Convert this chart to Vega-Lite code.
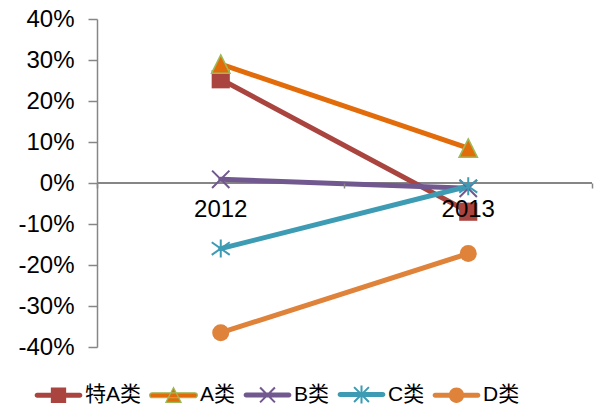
{
  "$schema": "https://vega.github.io/schema/vega-lite/v6.json",
  "width": 495,
  "height": 328,
  "autosize": {"type": "none"},
  "padding": {"left": 97, "top": 19, "right": 5, "bottom": 61},
  "background": "#ffffff",
  "config": {
    "view": {"stroke": null},
    "font": "Liberation Sans",
    "axis": {"labelFont": "Liberation Sans", "labelColor": "#000000", "grid": false, "title": null}
  },
  "data": {
    "values": [
      {"series": "特A类", "year": "2012", "value": 0.253},
      {"series": "特A类", "year": "2013", "value": -0.07},
      {"series": "A类", "year": "2012", "value": 0.29},
      {"series": "A类", "year": "2013", "value": 0.085},
      {"series": "B类", "year": "2012", "value": 0.009},
      {"series": "B类", "year": "2013", "value": -0.013},
      {"series": "C类", "year": "2012", "value": -0.16},
      {"series": "C类", "year": "2013", "value": -0.008},
      {"series": "D类", "year": "2012", "value": -0.365},
      {"series": "D类", "year": "2013", "value": -0.172}
    ]
  },
  "layer": [
    {
      "mark": {"type": "rule", "color": "#868686", "strokeWidth": 1.5},
      "encoding": {"y": {"datum": 0, "type": "quantitative"}}
    },
    {
      "mark": {"type": "line", "strokeWidth": 5, "strokeCap": "round"},
      "encoding": {
        "x": {
          "field": "year", "type": "nominal",
          "scale": {"type": "band", "paddingInner": 0, "paddingOuter": 0},
          "axis": {
            "orient": "bottom", "offset": -164, "zindex": 1,
            "bandPosition": 1, "tickExtra": true,
            "domain": false, "ticks": true, "tickSize": 5, "tickColor": "#868686", "tickWidth": 1.5,
            "labelAngle": 0, "labelFontSize": 24, "labelPadding": 9
          }
        },
        "y": {
          "field": "value", "type": "quantitative",
          "scale": {"domain": [-0.4, 0.4], "nice": false},
          "axis": {
            "values": [-0.4, -0.3, -0.2, -0.1, 0, 0.1, 0.2, 0.3, 0.4],
            "labelExpr": "round(datum.value * 100) + '%'",
            "labelFontSize": 24, "labelPadding": 14,
            "tickSize": 9, "tickColor": "#868686", "tickWidth": 1.5,
            "domainColor": "#868686", "domainWidth": 1.5
          }
        },
        "color": {"field": "series", "type": "nominal", "legend": null,
          "scale": {"domain": ["特A类", "A类", "B类", "C类", "D类"], "range": ["#A9443F", "#E36C0A", "#71588F", "#3D9BB4", "#DF823A"]}},
        "order": {"field": "year"}
      }
    },
    {
      "transform": [{"filter": {"field": "series", "oneOf": ["特A类", "A类", "D类"]}}],
      "mark": {"type": "point", "filled": true, "opacity": 1, "strokeWidth": 1.5},
      "encoding": {
        "x": {"field": "year", "type": "nominal"},
        "y": {"field": "value", "type": "quantitative"},
        "color": {"field": "series", "type": "nominal", "legend": null},
        "shape": {
          "condition": [
            {"test": "datum.series === '特A类'", "value": "square"},
            {"test": "datum.series === 'A类'", "value": "M0,-1L1,1H-1Z"}
          ],
          "value": "circle"
        },
        "size": {
          "condition": [
            {"test": "datum.series === '特A类'", "value": 330},
            {"test": "datum.series === 'A类'", "value": 340}
          ],
          "value": 290
        },
        "stroke": {
          "condition": {"test": "datum.series === 'A类'", "value": "#9BBB59"},
          "value": "transparent"
        }
      }
    },
    {
      "transform": [{"filter": {"field": "series", "oneOf": ["B类", "C类"]}}],
      "mark": {"type": "point", "filled": false, "opacity": 1, "strokeWidth": 2},
      "encoding": {
        "x": {"field": "year", "type": "nominal"},
        "y": {"field": "value", "type": "quantitative"},
        "color": {"field": "series", "type": "nominal", "legend": null},
        "shape": {
          "condition": {"test": "datum.series === 'B类'", "value": "M-1,-1L1,1M-1,1L1,-1"},
          "value": "M-1,-0.7L1,0.7M-1,0.7L1,-0.7M0,-1V1"
        },
        "size": {
          "condition": {"test": "datum.series === 'B类'", "value": 300},
          "value": 324
        }
      }
    },
    {
      "mark": {"type": "point", "filled": true, "opacity": 0, "size": 2025},
      "encoding": {
        "x": {"field": "year", "type": "nominal"},
        "y": {"field": "value", "type": "quantitative"},
        "color": {"field": "series", "type": "nominal", "legend": null},
        "shape": {
          "field": "series", "type": "nominal",
          "sort": ["特A类", "A类", "B类", "C类", "D类"],
          "scale": {
            "range": [
              "M-0.95,-0.11H0.95A0.11,0.11 0 0,1 0.95,0.11H-0.95A0.11,0.11 0 0,1 -0.95,-0.11Z M-0.34,-0.34H0.34V0.34H-0.34Z",
              "M-0.95,-0.11H0.95A0.11,0.11 0 0,1 0.95,0.11H-0.95A0.11,0.11 0 0,1 -0.95,-0.11Z M0,-0.34L0.34,0.32H-0.34Z",
              "M-0.95,-0.11H0.95A0.11,0.11 0 0,1 0.95,0.11H-0.95A0.11,0.11 0 0,1 -0.95,-0.11Z M-0.298,-0.362L0.362,0.298L0.298,0.362L-0.362,-0.298Z M-0.362,0.298L0.298,-0.362L0.362,-0.298L-0.298,0.362Z",
              "M-0.95,-0.11H0.95A0.11,0.11 0 0,1 0.95,0.11H-0.95A0.11,0.11 0 0,1 -0.95,-0.11Z M-0.298,-0.362L0.362,0.298L0.298,0.362L-0.362,-0.298Z M-0.362,0.298L0.298,-0.362L0.362,-0.298L-0.298,0.362Z M-0.045,-0.4H0.045V0.4H-0.045Z",
              "M-0.95,-0.11H0.95A0.11,0.11 0 0,1 0.95,0.11H-0.95A0.11,0.11 0 0,1 -0.95,-0.11Z M-0.34,0A0.34,0.34 0 1,1 0.34,0A0.34,0.34 0 1,1 -0.34,0Z"
            ]
          },
          "legend": {
            "title": null,
            "orient": "none",
            "legendX": -62,
            "legendY": 352,
            "direction": "horizontal",
            "columns": 5,
            "columnPadding": 5,
            "padding": 0,
            "symbolSize": 2025,
            "symbolOpacity": 1,
            "symbolFillColor": "#A9443F",
            "symbolStrokeColor": "transparent",
            "symbolStrokeWidth": 1.2,
            "labelOffset": 3,
            "labelFont": "Liberation Sans, Noto Sans CJK SC",
            "labelFontSize": 21,
            "labelColor": "#000000",
            "encode": {
              "symbols": {
                "update": {
                  "fill": {"scale": "color", "field": "value"},
                  "stroke": [{"test": "datum.value === 'A类'", "value": "#9BBB59"}, {"value": "transparent"}],
                  "strokeWidth": {"value": 1.2},
                  "opacity": {"value": 1},
                  "fillOpacity": {"value": 1},
                  "strokeOpacity": {"value": 1}
                }
              }
            }
          }
        }
      }
    }
  ]
}
